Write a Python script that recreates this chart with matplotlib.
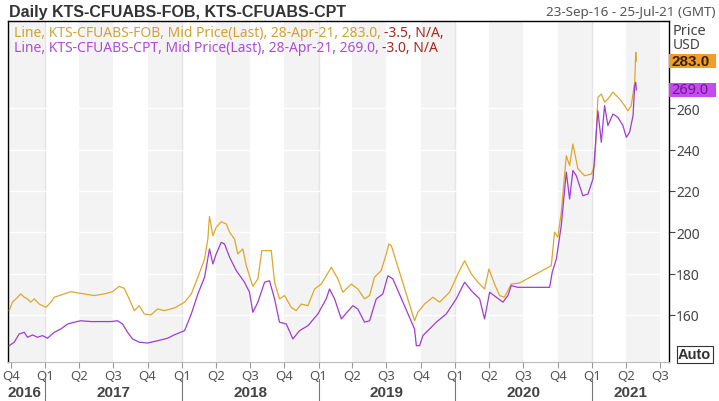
import pandas as pd
import numpy as np
import matplotlib
matplotlib.use("Agg")
import matplotlib.pyplot as plt
import matplotlib.transforms as mtransforms
from matplotlib.patches import Rectangle

plt.rcParams['font.family'] = ['Noto Sans', 'DejaVu Sans']
BOLD_FONT = ['Liberation Sans', 'DejaVu Sans']

#FOB series: time as decimal year, mid price.
fob_t = [2016.735, 2016.759, 2016.796, 2016.820, 2016.845, 2016.869, 2016.893, 2016.918, 2016.955,
         2017.003, 2017.040, 2017.064, 2017.101, 2017.138, 2017.186, 2017.235, 2017.284, 2017.357,
         2017.430, 2017.491, 2017.540, 2017.576, 2017.613, 2017.650, 2017.686, 2017.723, 2017.771,
         2017.820, 2017.869, 2017.917, 2017.950, 2018.018, 2018.067, 2018.115, 2018.164, 2018.188,
         2018.200, 2018.225, 2018.249, 2018.286, 2018.323, 2018.347, 2018.383, 2018.407, 2018.444,
         2018.469, 2018.517, 2018.554, 2018.583, 2018.652, 2018.676, 2018.712, 2018.749, 2018.798,
         2018.835, 2018.871, 2018.920, 2018.969, 2019.018, 2019.091, 2019.139, 2019.176, 2019.237,
         2019.285, 2019.334, 2019.371, 2019.407, 2019.456, 2019.493, 2019.512, 2019.530, 2019.700,
         2019.724, 2019.773, 2019.834, 2019.883, 2019.956, 2020.017, 2020.066, 2020.115, 2020.163,
         2020.212, 2020.244, 2020.285, 2020.322, 2020.358, 2020.407, 2020.468, 2020.700, 2020.724,
         2020.748, 2020.773, 2020.810, 2020.834, 2020.858, 2020.895, 2020.944, 2020.993, 2021.017,
         2021.041, 2021.066, 2021.090, 2021.114, 2021.151, 2021.200, 2021.236, 2021.260, 2021.285,
         2021.310, 2021.318, 2021.322]
fob_values = [162.0, 166.1, 168.5, 170.1, 168.5, 167.7, 166.1, 167.7, 165.2,
              163.6, 166.1, 168.5, 169.3, 170.1, 171.2, 170.6, 170.1, 169.3,
              170.1, 171.2, 173.8, 172.8, 167.7, 162.0, 164.4, 160.4, 159.9,
              162.8, 162.0, 162.8, 163.5, 166.1, 170.1, 178.2, 187.0, 196.7,
              207.7, 198.3, 202.4, 205.1, 204.0, 200.0, 196.7, 189.5, 191.9,
              183.8, 173.8, 177.4, 191.1, 191.1, 175.8, 167.7, 169.3, 163.6,
              162.0, 165.2, 164.4, 172.5, 174.9, 183.0, 177.4, 170.9, 174.9,
              172.5, 167.7, 169.3, 178.2, 181.4, 189.5, 194.3, 193.5, 157.1,
              161.2, 165.2, 168.5, 166.1, 170.9, 179.8, 186.2, 179.8, 175.8,
              172.5, 182.2, 174.9, 169.3, 168.5, 174.9, 175.4, 183.8, 200.0,
              197.6, 209.7, 237.1, 232.3, 242.8, 230.7, 227.4, 228.2, 232.3,
              265.4, 267.0, 263.0, 264.6, 267.9, 264.6, 261.4, 258.9, 261.4,
              272.7, 287.2, 283.0]

#CPT series.
cpt_t = [2016.735, 2016.772, 2016.808, 2016.845, 2016.869, 2016.906, 2016.942, 2016.979, 2017.015,
         2017.064, 2017.113, 2017.162, 2017.211, 2017.259, 2017.332, 2017.405, 2017.478, 2017.527,
         2017.564, 2017.601, 2017.637, 2017.686, 2017.747, 2017.820, 2017.893, 2017.944, 2018.018,
         2018.067, 2018.115, 2018.164, 2018.200, 2018.225, 2018.249, 2018.286, 2018.310, 2018.347,
         2018.396, 2018.456, 2018.493, 2018.517, 2018.554, 2018.603, 2018.639, 2018.676, 2018.712,
         2018.762, 2018.810, 2018.859, 2018.920, 2018.993, 2019.054, 2019.078, 2019.115, 2019.164,
         2019.249, 2019.285, 2019.334, 2019.371, 2019.420, 2019.468, 2019.505, 2019.541, 2019.700,
         2019.713, 2019.737, 2019.761, 2019.810, 2019.859, 2019.932, 2020.005, 2020.066, 2020.115,
         2020.176, 2020.212, 2020.249, 2020.298, 2020.346, 2020.383, 2020.407, 2020.456, 2020.688,
         2020.707, 2020.737, 2020.773, 2020.810, 2020.834, 2020.858, 2020.883, 2020.931, 2020.968,
         2021.005, 2021.041, 2021.066, 2021.090, 2021.114, 2021.151, 2021.187, 2021.224, 2021.249,
         2021.273, 2021.298, 2021.310, 2021.318, 2021.322]
cpt_values = [145.0, 146.7, 150.7, 151.5, 149.1, 150.2, 149.1, 149.9, 148.6,
              151.5, 153.1, 155.5, 156.4, 157.1, 156.7, 156.7, 156.7, 157.1,
              155.5, 151.5, 148.3, 146.7, 146.3, 147.4, 148.6, 150.3, 152.3,
              160.4, 170.1, 178.2, 191.9, 184.6, 189.5, 195.1, 194.3, 187.9,
              181.4, 175.8, 170.9, 161.2, 166.1, 175.8, 176.5, 167.7, 156.4,
              155.5, 148.3, 152.3, 154.7, 160.4, 167.7, 172.5, 167.7, 158.0,
              164.4, 162.8, 156.4, 157.1, 167.7, 170.1, 178.9, 177.4, 153.1,
              145.0, 145.0, 149.9, 153.1, 156.4, 160.4, 167.7, 175.8, 171.7,
              167.7, 158.0, 170.9, 168.5, 166.1, 169.3, 174.1, 173.3, 173.3,
              180.6, 187.0, 203.2, 229.1, 216.1, 229.9, 227.4, 217.7, 218.5,
              225.8, 258.9, 243.6, 261.4, 251.7, 257.3, 255.7, 251.7, 246.0,
              248.5, 256.5, 271.1, 272.7, 269.0]

y_ticks = [160, 180, 200, 220, 240, 260]
years = [2016, 2017, 2018, 2019, 2020, 2021]

fob_color = "#DEA72C"
cpt_color = "#A03CD0"
red_text = "#A8281E"


def to_dates(t):
    t = np.asarray(t)
    return pd.Timestamp("2017-01-01") + pd.to_timedelta((t - 2017) * 365.25, unit="D")


fob = pd.Series(fob_values, index=to_dates(fob_t))
cpt = pd.Series(cpt_values, index=to_dates(cpt_t))

x_start = pd.Timestamp("2016-09-23")
x_end = pd.Timestamp("2021-07-25")

fig = plt.figure(figsize=(7.19, 4.02), dpi=100)
ax = fig.add_axes([0.0111, 0.097, 0.9194, 0.8483])

#Alternate quarter shading, grey first band up to the start of 2017.
ax.axvspan(x_start, pd.Timestamp("2017-01-01"), color="#F3F3F3", lw=0, zorder=0)
quarters = pd.date_range("2017-01-01", "2021-10-01", freq="QS")
for i in range(len(quarters) - 1):
    if quarters[i].quarter in (2, 4):
        ax.axvspan(quarters[i], quarters[i + 1], color="#F3F3F3", lw=0, zorder=0)
for yr in years[1:]:
    ax.axvline(pd.Timestamp("%d-01-01" % yr), color="#E4E4E4", lw=1.0, zorder=1)
for v in y_ticks:
    ax.axhline(v, color="white", lw=1.0, zorder=1)

ax.plot(fob.index, fob.values, color=fob_color, lw=0.9, zorder=3)
ax.plot(cpt.index, cpt.values, color=cpt_color, lw=0.9, zorder=3)

ax.set_xlim(x_start, x_end)
ax.set_ylim(137.1, 302.4)

#Spines
for side in ["left", "top", "right"]:
    ax.spines[side].set_color("black")
    ax.spines[side].set_linewidth(1.0)
ax.spines["bottom"].set_color("#BBBBBB")

#Right price axis
ax.yaxis.tick_right()
ax.set_yticks(y_ticks)
ax.set_yticklabels([str(v) for v in y_ticks], fontsize=10, color="#444444")
ax.tick_params(axis="y", length=4, width=0.8, color="#444444", pad=1)

#Quarter ticks
q_ticks = pd.date_range("2016-10-01", "2021-07-01", freq="QS")
ax.set_xticks(q_ticks)
ax.set_xticklabels(["Q%d" % d.quarter for d in q_ticks], fontsize=9.5, color="#555555")
ax.tick_params(axis="x", length=4, width=0.8, color="#999999", pad=1)

#Year labels and separators under the axis
trans = mtransforms.blended_transform_factory(ax.transData, ax.transAxes)
for yr in years:
    lo = max(pd.Timestamp("%d-01-01" % yr), x_start)
    hi = min(pd.Timestamp("%d-01-01" % (yr + 1)), x_end)
    mid = lo + (hi - lo) / 2
    if yr == 2016:
        ax.text(x_start, -0.088, str(yr), transform=trans, ha="left", va="center",
                fontsize=11, fontweight="bold", family=BOLD_FONT, color="#444444")
    else:
        ax.text(mid, -0.088, str(yr), transform=trans, ha="center", va="center",
                fontsize=11, fontweight="bold", family=BOLD_FONT, color="#444444")
        ax.plot([lo, lo], [-0.05, -0.118], transform=trans, color="#777777", lw=0.8, clip_on=False)

#Header
fig.text(0.012, 0.970, "Daily KTS-CFUABS-FOB, KTS-CFUABS-CPT", fontsize=11.5, fontweight="bold",
         family=BOLD_FONT, color="#333333", ha="left", va="center")
fig.text(0.995, 0.970, "23-Sep-16 - 25-Jul-21 (GMT)", fontsize=9.7, color="#555555",
         ha="right", va="center")

#Series legend lines
t1 = ax.text(0.009, 0.965, "Line, KTS-CFUABS-FOB, Mid Price(Last), 28-Apr-21, 283.0, ",
             transform=ax.transAxes, fontsize=10, color="#D0A234", va="center", ha="left")
ax.annotate("-3.5, N/A,", xy=(1, 0), xycoords=t1, va="bottom", ha="left", fontsize=10, color=red_text)
t2 = ax.text(0.009, 0.921, "Line, KTS-CFUABS-CPT, Mid Price(Last), 28-Apr-21, 269.0, ",
             transform=ax.transAxes, fontsize=10, color="#B04CD4", va="center", ha="left")
ax.annotate("-3.0, N/A", xy=(1, 0), xycoords=t2, va="bottom", ha="left", fontsize=10, color=red_text)

#Axis title and last value boxes
fig.text(0.936, 0.921, "Price", fontsize=10.5, color="#444444", ha="left", va="center")
fig.text(0.936, 0.887, "USD", fontsize=10, color="#444444", ha="left", va="center")
ytrans = mtransforms.blended_transform_factory(ax.transAxes, ax.transData)
box_h = 7.0
for val, fc, tc, fw, fam in [(fob_values[-1], "#EF9E28", "#3A1F00", "bold", BOLD_FONT),
                             (cpt_values[-1], "#C64AF0", "#6A1A8E", "normal", None)]:
    ax.add_patch(Rectangle((1.0, val - box_h / 2), 0.071, box_h, transform=ytrans,
                           fc=fc, ec="none", clip_on=False, zorder=5))
    ax.text(1.004, val, "%.1f" % val, transform=ytrans, fontsize=11 if fam else 10.5, fontweight=fw,
            family=fam, color=tc, ha="left", va="center", zorder=6, clip_on=False)

#Auto box
fig.text(0.943, 0.116, "Auto", fontsize=10.5, fontweight="bold", family=BOLD_FONT, color="#333333",
         ha="left", va="center",
         bbox=dict(boxstyle="square,pad=0.1", fc="white", ec="#333333", lw=0.8))

fig.savefig("out.png", dpi=100)
